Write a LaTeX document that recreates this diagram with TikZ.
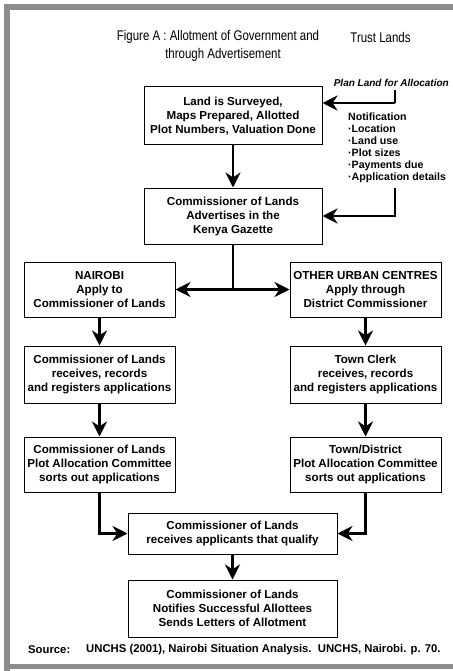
\documentclass[tikz,border=0pt]{standalone}
\usepackage{fontspec}
\setmainfont{Liberation Sans}
\newfontfamily\narrowfont[FakeStretch=0.82]{Liberation Sans}
\usetikzlibrary{arrows.meta,positioning}
\tikzset{
  lbox/.style={draw=black, line width=1pt, align=center, font=\fontsize{11.6}{14}\selectfont\bfseries, inner sep=3pt, minimum height=56pt, minimum width=151pt},
  farr/.style={-{Stealth[length=15pt,width=15pt]}, line width=2.8pt},
  fline/.style={line width=2.8pt}
}

\begin{document}
\begin{tikzpicture}[x=1pt,y=-1pt]
\useasboundingbox (0,0) rectangle (452,671);
% frame
\draw[line width=6pt, black!45] (7,700) -- (7,7) -- (470,7);
\draw[line width=5pt, black!45] (4,666) -- (470,666);
% title
\node[font=\narrowfont\fontsize{14}{16}\selectfont, inner sep=0] (title1) at (218,37) {Figure A : Allotment of Government and};
\node[font=\narrowfont\fontsize{14}{16}\selectfont, inner sep=0] (title2) at (380.5,37) {Trust Lands};
\node[font=\narrowfont\fontsize{14}{16}\selectfont, inner sep=0] (title3) at (223,55) {through Advertisement};

\node[lbox, minimum width=178pt, minimum height=58pt] (b1) at (233,116) {Land is Surveyed,\\Maps Prepared, Allotted\\Plot Numbers, Valuation Done};
\node[lbox, minimum width=178pt, below=42pt of b1] (b2) {Commissioner of Lands\\Advertises in the\\Kenya Gazette};
\node[lbox, minimum height=55pt] (nai) at (99.5,289.5) {NAIROBI\\Apply to\\Commissioner of Lands};
\node[lbox, minimum height=55pt] (oth) at (365.5,289.5) {OTHER URBAN CENTRES\\Apply through\\District Commissioner};
\node[lbox, minimum height=57pt, below=28pt of nai] (b3l) {Commissioner of Lands\\receives, records\\and registers applications};
\node[lbox, minimum height=57pt, below=28pt of oth] (b3r) {Town Clerk\\receives, records\\and registers applications};
\node[lbox, minimum height=55pt, below=33pt of b3l] (b4l) {Commissioner of Lands\\Plot Allocation Committee\\sorts out applications};
\node[lbox, minimum height=55pt, below=33pt of b3r] (b4r) {Town/District\\Plot Allocation Committee\\sorts out applications};
\node[lbox, minimum width=209pt, minimum height=41pt] (b5) at (232.5,533.5) {Commissioner of Lands\\receives applicants that qualify};
\node[lbox, minimum width=209pt, minimum height=57pt, below=25pt of b5] (b6) {Commissioner of Lands\\Notifies Successful Allottees\\Sends Letters of Allotment};

% notification side
\node[font=\fontsize{10}{12}\selectfont\bfseries\itshape, anchor=east, inner sep=0] (plan) at (449,83) {Plan Land for Allocation};
\node[font=\fontsize{10.6}{12}\selectfont\bfseries, align=left, anchor=west, inner sep=0] (notif) at (348,148) {Notification\\·Location\\·Land use\\·Plot sizes\\·Payments due\\·Application details};
\coordinate (tick) at (395,90);
\coordinate (tickend) at (395,103);
\coordinate (nbot) at (395,188);

% connectors
\draw[line width=1.5pt] (tick) -- (tickend);
\draw[farr] (tickend) -- (tickend -| b1.east);
\draw[farr] (nbot) |- (b2.east);
\draw[farr] (b1) -- (b2);
\draw[fline] (b2.south) -- (b2.south |- nai.east);
\draw[farr] (b2.south |- nai.east) -- (nai.east);
\draw[farr] (b2.south |- nai.east) -- (oth.west);
\draw[farr] (nai) -- (b3l);
\draw[farr] (oth) -- (b3r);
\draw[farr] (b3l) -- (b4l);
\draw[farr] (b3r) -- (b4r);
\draw[farr] (b4l.south) |- (b5.west);
\draw[farr] (b4r.south) |- (b5.east);
\draw[farr] (b5) -- (b6);

% source
\node[font=\fontsize{11.3}{14}\selectfont\bfseries, anchor=west, inner sep=0] (src) at (28,650) {Source:};
\node[font=\fontsize{11.3}{14}\selectfont\bfseries, anchor=west, inner sep=0] (ref) at (86,650) {UNCHS (2001), Nairobi Situation Analysis.\ \ UNCHS, Nairobi. p. 70.};
\end{tikzpicture}
\end{document}
